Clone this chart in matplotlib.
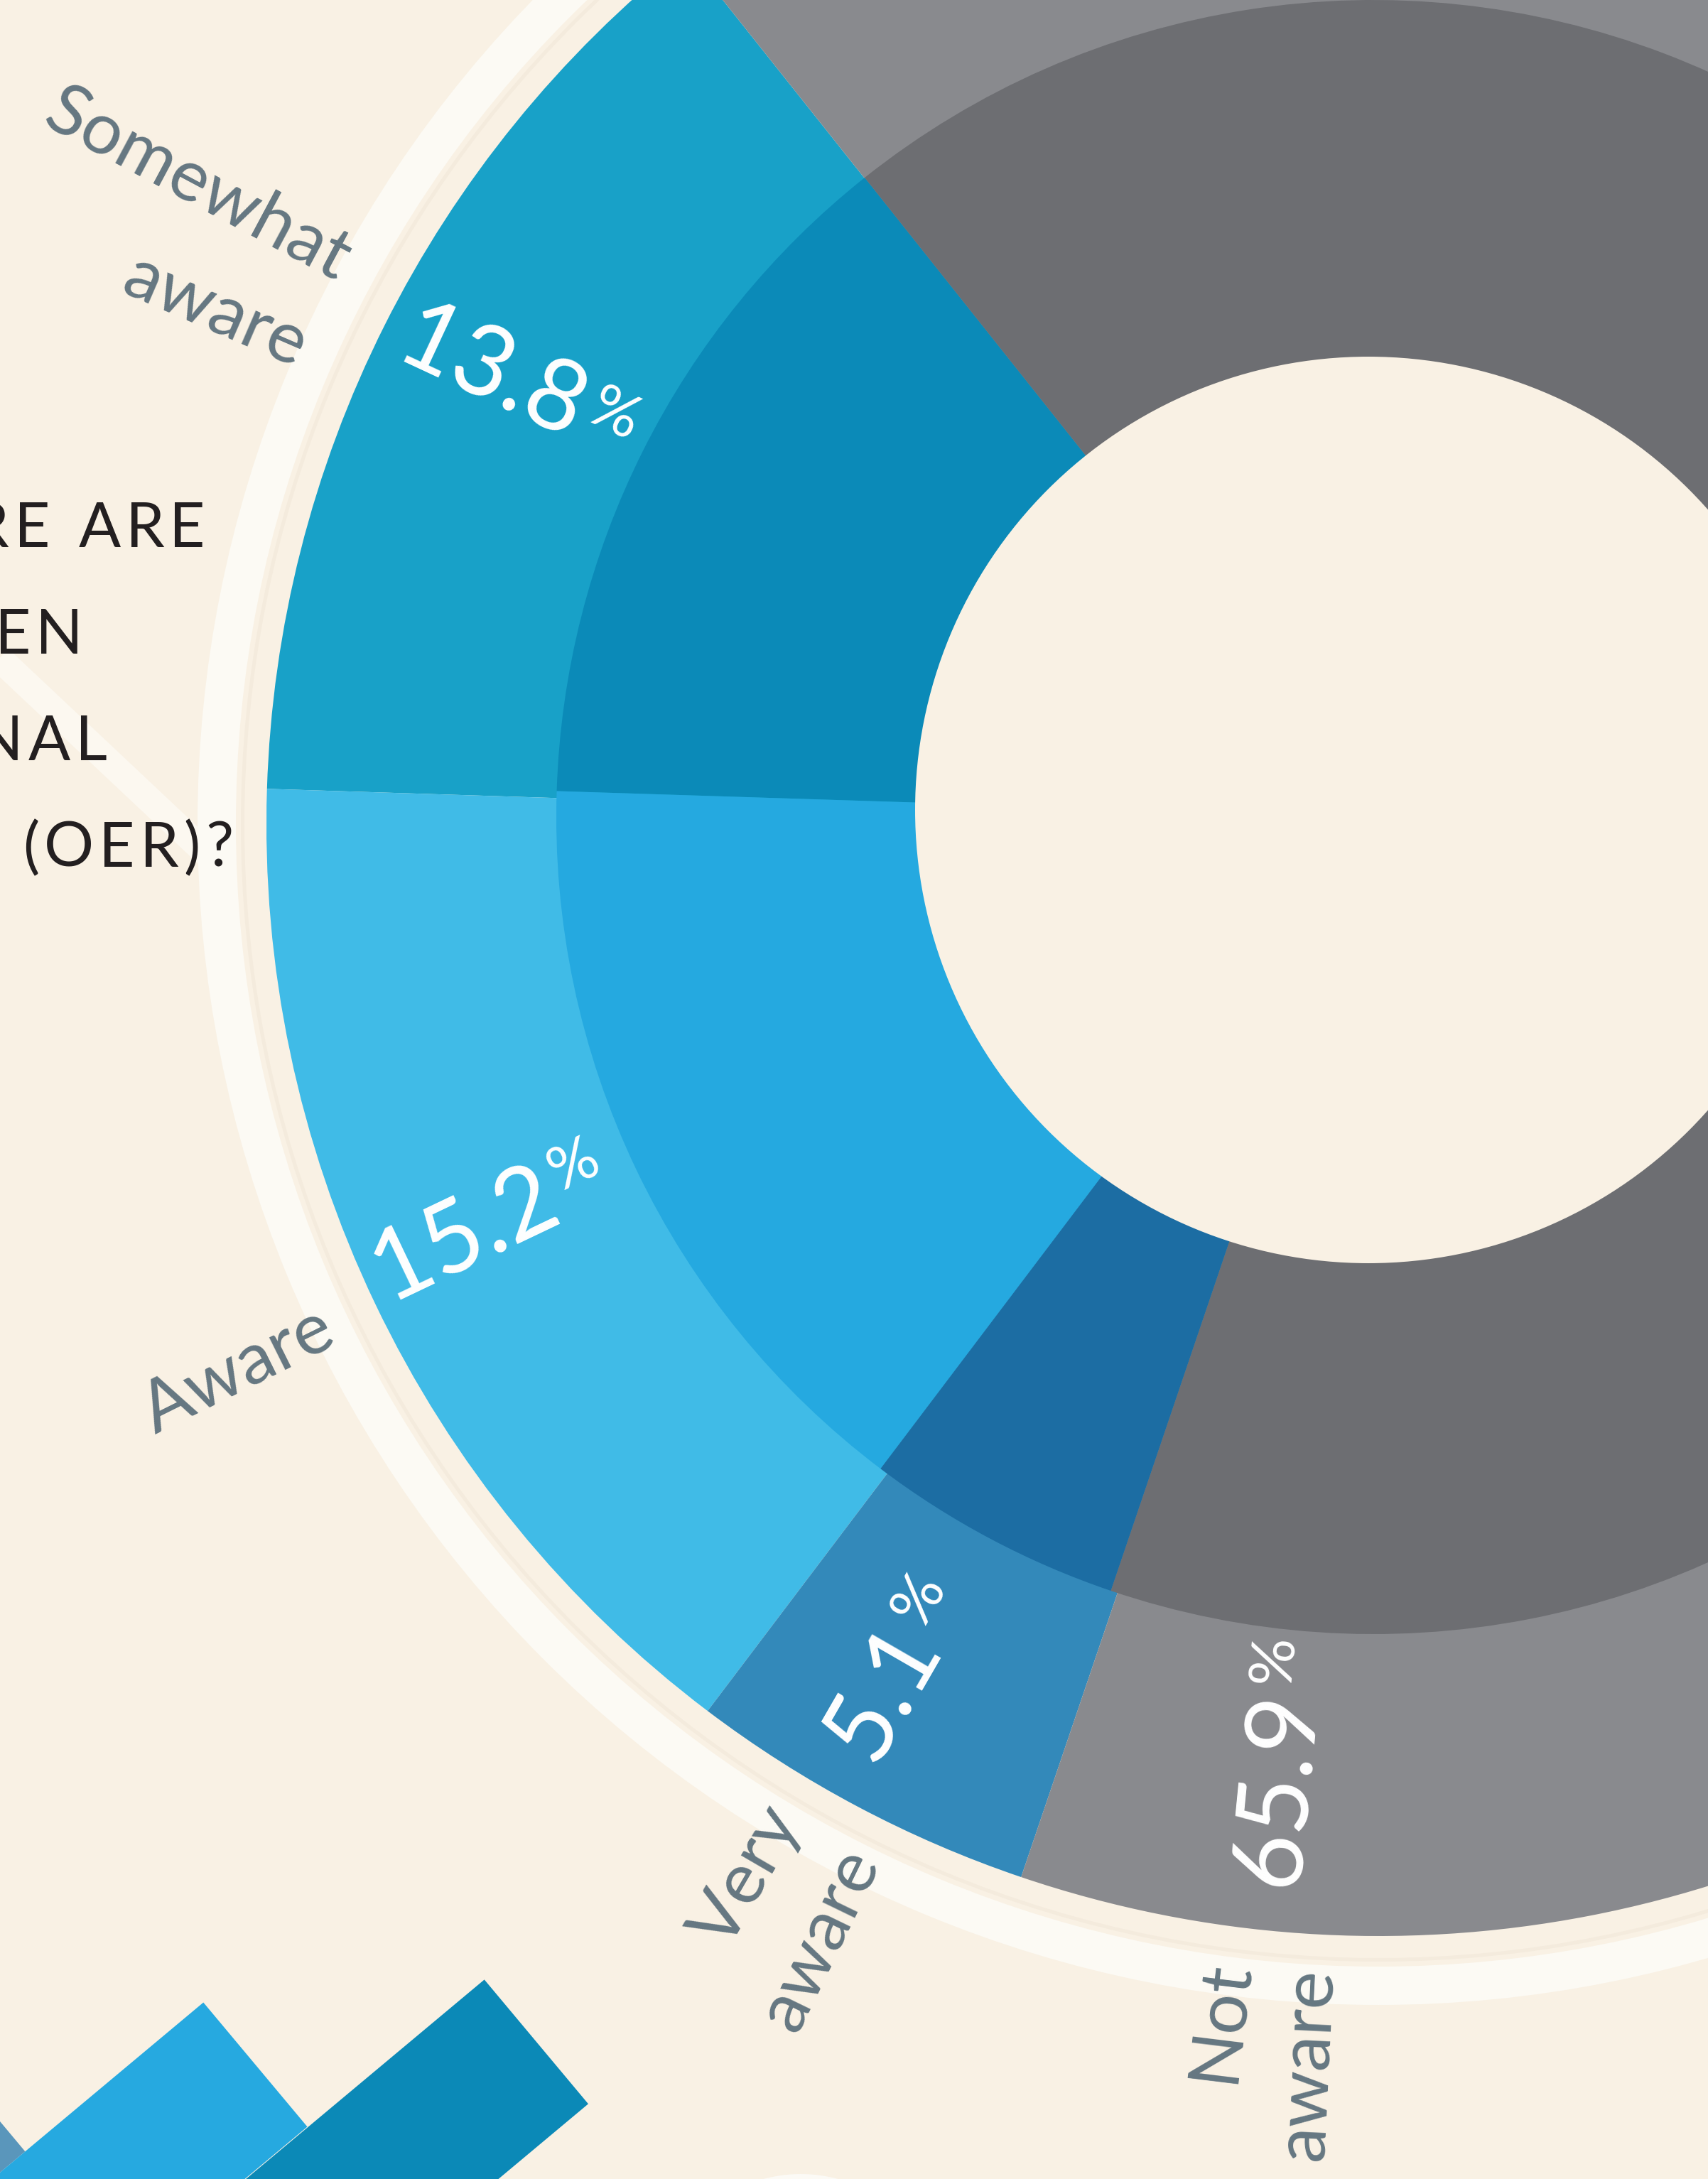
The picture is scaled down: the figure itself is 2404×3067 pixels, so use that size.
import numpy as np
import matplotlib
matplotlib.use("Agg")
import matplotlib.pyplot as plt
from matplotlib.patches import Circle, Wedge
from matplotlib.transforms import Affine2D
from matplotlib import font_manager
from matplotlib.ft2font import FT2Font

W, H, DPI = 2404, 3067, 100
BG = "#F9F1E4"
FONT = "Lato"
plt.rcParams["font.family"] = [FONT, "DejaVu Sans"]

# ---------------------------------------------------------------- data
categories = ["Somewhat aware", "Aware", "Very aware", "Not aware"]
shares = [13.8, 15.2, 5.1, 65.9]
pct_labels = ["13.8", "15.2", "5.1", "65.9"]
outer_colors = ["#18A1C8", "#40BBE7", "#3389BA", "#898A8E"]
inner_colors = ["#0B8AB8", "#25A9E0", "#1C6DA3", "#6D6E72"]

question = ["HOW AWARE ARE", "YOU OF OPEN", "EDUCATIONAL", "RESOURCES (OER)?"]

# decorative rotated bars in the lower-left corner (bar frame units)
deco_left = [-235, -7, 222]
deco_top = [52, 379, 703]
deco_colors = ["#5A96BB", "#26A9E0", "#0B89B7"]

# ---------------------------------------------------------------- layout
def img(x, y):
    """image pixel (y down) -> data coords (y up)"""
    return (x, H - y)

C_OUT, C_MID, C_HOLE = img(1940, 1160), img(1933, 1150), img(1926, 1140)
R_OUT, R_MID, R_HOLE = 1565, 1150, 638
START = 128.5

# ring labels: (line, angle deg); the inner end of each line sits at R_LAB
ring_lines = [("Somewhat", 151.9), ("aware", 156.6), ("Aware", 206.4),
              ("Very", 239.8), ("aware", 244.1), ("Not", 263.0), ("aware", 267.2)]
R_LAB = 1632
LAB_FS = 73

# percentage anchors (junction of number and % sign on baseline)
pct_theta = [155.3, 206.9, 243.0, 266.5]
pct_radius = [1240, 1268, 1322, 1247]
pct_rot = [-25, 25.5, 60, 84.4]
PCT_FS = 100

# question text: right edge and baseline of each line (image px)
q_right = [289, 117, 151, 328]
q_base = [770, 920, 1070, 1220]
Q_FS = 63


def tracked_text(ax, s, right, base, size, track, color):
    path = font_manager.findfont(font_manager.FontProperties(family=FONT))
    ft = FT2Font(path)
    ft.set_size(size, DPI)
    advs = []
    for ch in s:
        if ch == " ":
            advs.append(0.30 * size * DPI / 72)
        else:
            advs.append(ft.load_char(ord(ch)).linearHoriAdvance / 65536)
    x = right - (sum(advs) + track * (len(s) - 1))
    for ch, a in zip(s, advs):
        if ch != " ":
            ax.text(x, base, ch, fontsize=size, color=color, ha="left",
                    va="baseline", zorder=6)
        x += a + track


def main():
    fig = plt.figure(figsize=(W / DPI, H / DPI), dpi=DPI)
    fig.patch.set_facecolor(BG)
    ax = fig.add_axes([0, 0, 1, 1])
    ax.set_facecolor(BG)

    # decorative bars, rotated
    rot = Affine2D().rotate_deg(-50.1) + ax.transData
    ax.bar(deco_left, [t + 900 for t in deco_top], width=228, bottom=-900,
           align="edge", color=deco_colors, linewidth=0, transform=rot, zorder=1)

    # small white disc peeking at bottom edge
    ax.add_patch(Circle(img(1127, 3260), 200, fc="#FCFAF5", lw=0, zorder=1))

    # diagonal light band behind the question
    x0, y0 = img(-40, 890)
    x1, y1 = img(300, 1210)
    ax.plot([x0, x1], [y0, y1], color="#FCF8F0", lw=27, solid_capstyle="butt",
            zorder=2)

    # outer decorative rings
    ax.add_patch(Wedge(C_OUT, 1662, 0, 360, width=54, fc="#FCFAF4", lw=0, zorder=3))
    ax.add_patch(Wedge(C_OUT, 1601, 0, 360, width=5, fc="#F4EBDD", lw=0, zorder=3))

    # two-tone donut
    w1, _ = ax.pie(shares, colors=outer_colors, radius=R_OUT, center=C_OUT,
                   startangle=START, counterclock=True,
                   wedgeprops=dict(linewidth=0), frame=True)
    w2, _ = ax.pie(shares, colors=inner_colors, radius=R_MID, center=C_MID,
                   startangle=START, counterclock=True,
                   wedgeprops=dict(linewidth=0), frame=True)
    for w in w1:
        w.set_zorder(4)
    for w in w2:
        w.set_zorder(4.5)
    ax.add_patch(Circle(C_HOLE, R_HOLE, fc=BG, lw=0, zorder=5))

    # ring labels (radial, reading inward)
    cx, cy = C_HOLE
    for txt, th in ring_lines:
        t = np.radians(th)
        ax.text(cx + R_LAB * np.cos(t), cy + R_LAB * np.sin(t), txt,
                rotation=th - 180, rotation_mode="anchor", ha="right",
                va="center", fontsize=LAB_FS, color="#657781", zorder=6)

    # percentages
    cap = 0.7165 * PCT_FS * DPI / 72
    for txt, th, r, rt in zip(pct_labels, pct_theta, pct_radius, pct_rot):
        t = np.radians(th)
        px, py = cx + r * np.cos(t), cy + r * np.sin(t)
        a = np.radians(rt)
        ax.text(px, py, txt, rotation=rt, rotation_mode="anchor", ha="right",
                va="baseline", fontsize=PCT_FS, color="white", zorder=6)
        qx = px - cap * np.sin(a) + 8 * np.cos(a)
        qy = py + cap * np.cos(a) + 8 * np.sin(a)
        ax.text(qx, qy, "%", rotation=rt, rotation_mode="anchor", ha="left",
                va="top", fontsize=PCT_FS * 0.62, color="white", zorder=6)

    # cropped question text
    for line, rx, by in zip(question, q_right, q_base):
        tracked_text(ax, line, rx, H - by, Q_FS, 7, "#231F20")

    ax.set_xlim(0, W)
    ax.set_ylim(0, H)
    ax.set_aspect("auto")
    ax.axis("off")
    fig.savefig("out.png", dpi=DPI, facecolor=BG)


if __name__ == "__main__":
    main()
